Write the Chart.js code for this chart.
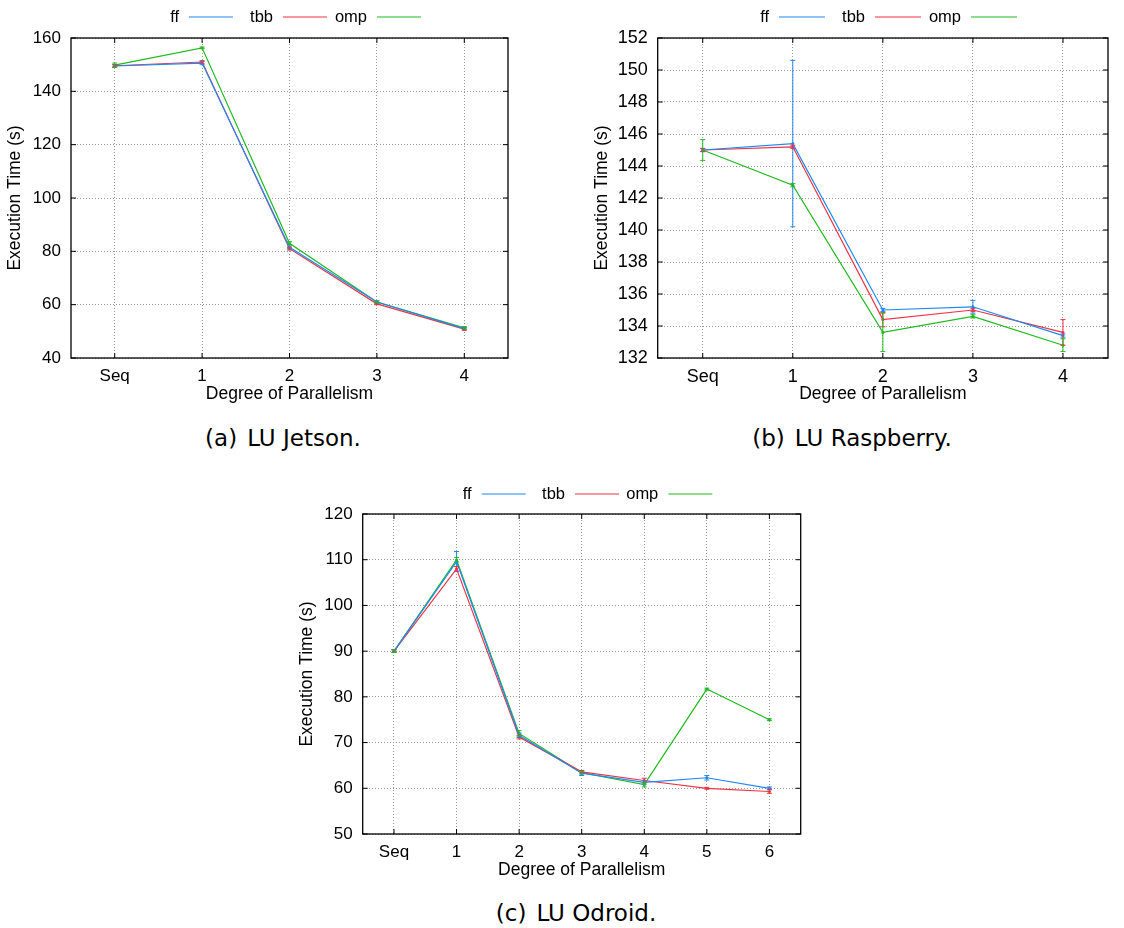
<!DOCTYPE html>
<html>
<head>
<meta charset="utf-8">
<script src="https://cdn.jsdelivr.net/npm/chart.js@4.4.0/dist/chart.umd.min.js"></script>
<style>
  body { margin: 0; background: #fff; width: 1124px; height: 928px; position: relative; overflow: hidden; }
  .box { position: absolute; }
  .cap { position: absolute; font-family: "DejaVu Sans", sans-serif; font-size: 23px; line-height: 23px; color: #000; white-space: nowrap; transform: translateX(-50%); }
  .cap span { margin-right: 10px; }
</style>
</head>
<body>
<div class="box" style="left:0;top:0"><canvas id="jetson" width="562" height="412"></canvas></div>
<div class="box" style="left:562px;top:0"><canvas id="raspberry" width="562" height="412"></canvas></div>
<div class="box" style="left:281px;top:470px"><canvas id="odroid" width="562" height="420"></canvas></div>
<div class="cap" style="left:283px;top:427px"><span>(a)</span>LU Jetson.</div>
<div class="cap" style="left:852px;top:427px"><span>(b)</span>LU Raspberry.</div>
<div class="cap" style="left:576px;top:902px"><span>(c)</span>LU Odroid.</div>
<script>
// LU Jetson
const jetsonLabels = ["Seq", "1", "2", "3", "4"];
const jetsonFF = [149.5, 150.6, 81.5, 61.0, 51.0];
const jetsonTBB = [149.6, 151.0, 81.0, 60.3, 50.8];
const jetsonOMP = [149.8, 156.3, 83.0, 61.0, 51.3];
const jetsonFFErr = [0.5, 0.6, 0.5, 0.4, 0.4];
const jetsonTBBErr = [0.4, 0.5, 0.5, 0.3, 0.4];
const jetsonOMPErr = [0.8, 0.3, 0.6, 0.4, 0.5];
const jetsonTicks = [40, 160, 20]; // min, max, step

// LU Raspberry
const raspLabels = ["Seq", "1", "2", "3", "4"];
const raspFF = [145.0, 145.4, 135.0, 135.2, 133.4];
const raspTBB = [145.0, 145.2, 134.4, 135.0, 133.6];
const raspOMP = [145.0, 142.8, 133.6, 134.6, 132.8];
const raspFFErr = [0.1, 5.2, 0.1, 0.4, 0.1];
const raspTBBErr = [0.1, 0.1, 0.45, 0.1, 0.8];
const raspOMPErr = [0.65, 0.1, 1.2, 0.1, 0.4];
const raspTicks = [132, 152, 2];

// LU Odroid
const odroidLabels = ["Seq", "1", "2", "3", "4", "5", "6"];
const odroidFF = [90.0, 109.6, 71.6, 63.3, 61.3, 62.3, 60.0];
const odroidTBB = [90.0, 108.0, 71.2, 63.6, 61.7, 60.0, 59.3];
const odroidOMP = [90.0, 110.0, 72.0, 63.4, 60.8, 81.7, 75.0];
const odroidFFErr = [0.3, 2.2, 0.5, 0.5, 0.4, 0.5, 0.3];
const odroidTBBErr = [0.3, 0.5, 0.4, 0.3, 0.5, 0.2, 0.4];
const odroidOMPErr = [0.3, 0.5, 0.6, 0.3, 0.5, 0.2, 0.2];
const odroidTicks = [50, 120, 10];

const seriesNames = ["ff", "tbb", "omp"];
const seriesColors = ["#1f88f5", "#ee3344", "#1fba1f"];

Chart.defaults.font.family = '"Liberation Sans", Arial, sans-serif';
Chart.defaults.color = "#000";

// gnuplot look: error bars, box, inward ticks, key at top
const gpPlugin = {
  id: "gp",
  afterDatasetsDraw(chart) {
    const ctx = chart.ctx;
    const ys = chart.scales.y;
    chart.data.datasets.forEach((ds, i) => {
      const meta = chart.getDatasetMeta(i);
      ctx.save();
      ctx.strokeStyle = ds.borderColor;
      ctx.lineWidth = 1;
      meta.data.forEach((pt, j) => {
        const top = ys.getPixelForValue(ds.data[j] + ds.errors[j]);
        const bot = ys.getPixelForValue(ds.data[j] - ds.errors[j]);
        ctx.beginPath();
        ctx.moveTo(pt.x, top);
        ctx.lineTo(pt.x, bot);
        ctx.moveTo(pt.x - 2.5, top);
        ctx.lineTo(pt.x + 2.5, top);
        ctx.moveTo(pt.x - 2.5, bot);
        ctx.lineTo(pt.x + 2.5, bot);
        ctx.stroke();
      });
      ctx.restore();
    });
  },
  afterDraw(chart, args, opts) {
    const ctx = chart.ctx;
    const a = chart.chartArea;
    const xs = chart.scales.x;
    const ys = chart.scales.y;
    ctx.save();
    ctx.strokeStyle = "#000";
    ctx.lineWidth = 1.3;
    ctx.strokeRect(a.left, a.top, a.right - a.left, a.bottom - a.top);
    ctx.lineWidth = 1;
    ctx.beginPath();
    ys.ticks.forEach((t) => {
      const py = ys.getPixelForValue(t.value);
      ctx.moveTo(a.left, py);
      ctx.lineTo(a.left + 5, py);
      ctx.moveTo(a.right, py);
      ctx.lineTo(a.right - 5, py);
    });
    xs.ticks.forEach((t, k) => {
      const px = xs.getPixelForTick(k);
      ctx.moveTo(px, a.bottom);
      ctx.lineTo(px, a.bottom - 5);
      ctx.moveTo(px, a.top);
      ctx.lineTo(px, a.top + 5);
    });
    ctx.stroke();

    // key
    ctx.font = '16.5px "Liberation Sans", Arial, sans-serif';
    ctx.textAlign = "right";
    ctx.textBaseline = "middle";
    ctx.fillStyle = "#000";
    chart.data.datasets.forEach((ds, i) => {
      const sx = opts.x + i * opts.step;
      ctx.fillText(ds.label, sx - 10, opts.y);
      ctx.strokeStyle = ds.borderColor;
      ctx.lineWidth = 1.2;
      ctx.beginPath();
      ctx.moveTo(sx, opts.y);
      ctx.lineTo(sx + opts.len, opts.y);
      ctx.stroke();
    });
    ctx.restore();
  },
};

function makeChart(id, labels, values, errors, ticks, geo) {
  const datasets = values.map((v, i) => ({
    label: seriesNames[i],
    data: v,
    errors: errors[i],
    borderColor: seriesColors[i],
    backgroundColor: seriesColors[i],
    borderWidth: 1.2,
    pointRadius: 1.5,
    pointBorderWidth: 0,
    tension: 0,
    fill: false,
  }));
  const grid = { color: "#999", lineWidth: 1, drawTicks: false, offset: false };
  const border = { display: false, dash: [1, 2] };
  return new Chart(document.getElementById(id), {
    type: "line",
    data: { labels: labels, datasets: datasets },
    options: {
      responsive: false,
      animation: false,
      devicePixelRatio: 1,
      layout: { padding: { left: geo.padLeft, right: geo.padRight, top: geo.padTop, bottom: 0 } },
      plugins: {
        legend: { display: false },
        tooltip: { enabled: false },
        gp: geo.key,
      },
      scales: {
        x: {
          type: "category",
          offset: true,
          grid: grid,
          border: border,
          ticks: { font: { size: geo.tickSize }, padding: 8, maxRotation: 0, autoSkip: false },
          title: {
            display: true,
            text: "Degree of Parallelism",
            font: { size: 17.5 },
            padding: { top: 0, bottom: geo.xTitlePad },
          },
          afterFit: (s) => { s.height = geo.xAxisH; },
        },
        y: {
          min: ticks[0],
          max: ticks[1],
          grid: grid,
          border: border,
          ticks: { stepSize: ticks[2], font: { size: geo.tickSize }, padding: 10 },
          title: {
            display: true,
            text: "Execution Time (s)",
            font: { size: 17.5 },
            padding: { top: 5, bottom: 0 },
          },
          afterFit: (s) => { s.width = 71; },
        },
      },
    },
    plugins: [gpPlugin],
  });
}

makeChart("jetson", jetsonLabels,
  [jetsonFF, jetsonTBB, jetsonOMP],
  [jetsonFFErr, jetsonTBBErr, jetsonOMPErr],
  jetsonTicks,
  { padLeft: 0, padRight: 54, padTop: 38, xAxisH: 54, xTitlePad: 7.5, tickSize: 17,
    key: { x: 189, step: 94, len: 44, y: 17 } });

makeChart("raspberry", raspLabels,
  [raspFF, raspTBB, raspOMP],
  [raspFFErr, raspTBBErr, raspOMPErr],
  raspTicks,
  { padLeft: 24.7, padRight: 16, padTop: 38, xAxisH: 54, xTitlePad: 7.5, tickSize: 18,
    key: { x: 217, step: 96, len: 46, y: 17 } });

makeChart("odroid", odroidLabels,
  [odroidFF, odroidTBB, odroidOMP],
  [odroidFFErr, odroidTBBErr, odroidOMPErr],
  odroidTicks,
  { padLeft: 10.7, padRight: 42.3, padTop: 44, xAxisH: 56, xTitlePad: 9.5, tickSize: 17,
    key: { x: 200.7, step: 93.3, len: 44, y: 24 } });
</script>
</body>
</html>
